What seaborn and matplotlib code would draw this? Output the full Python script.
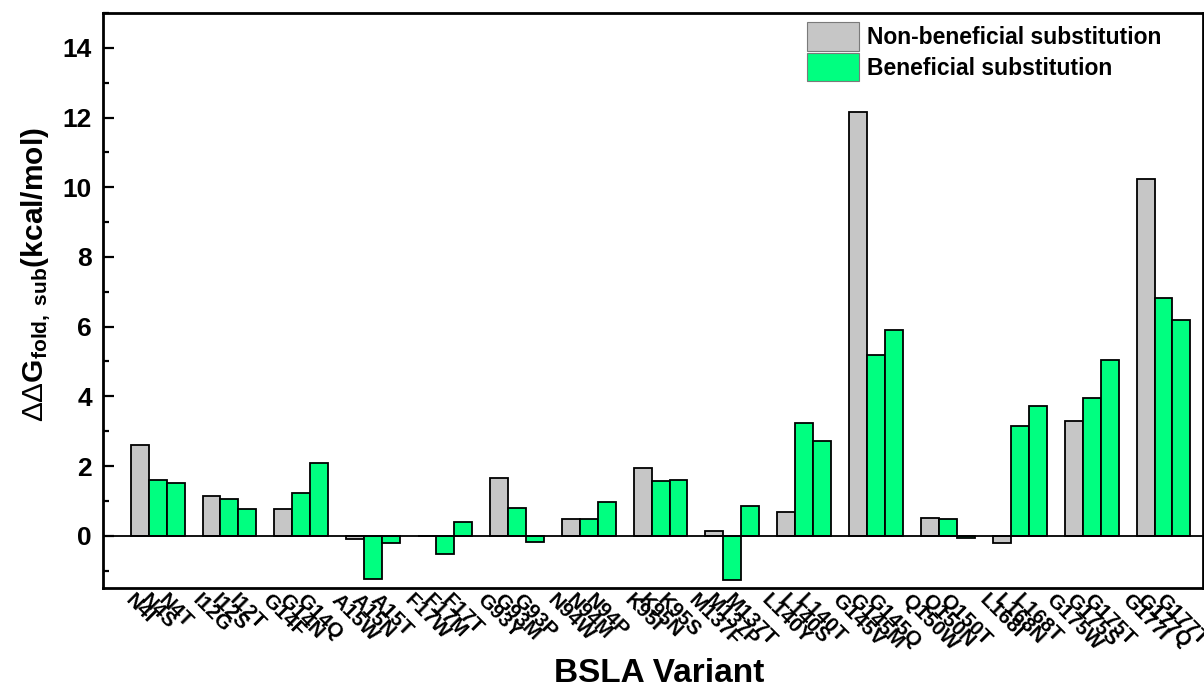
import matplotlib
matplotlib.use("Agg")
import matplotlib.pyplot as plt
from matplotlib.ticker import MultipleLocator
import seaborn as sns
import pandas as pd

# variants, three per residue position (first one = non-beneficial)
groups = ['N4', 'I12', 'G14', 'A15', 'F17', 'G93', 'N94', 'K95',
          'M137', 'L140', 'G145', 'Q150', 'L168', 'G175', 'G177']
variants = ['N4I', 'N4S', 'N4T', 'I12G', 'I12S', 'I12T', 'G14F', 'G14N', 'G14Q',
            'A15W', 'A15N', 'A15T', 'F17W', 'F17M', 'F17T', 'G93Y', 'G93M', 'G93P',
            'N94W', 'N94M', 'N94P', 'K95I', 'K95N', 'K95S', 'M137F', 'M137P', 'M137T',
            'L140Y', 'L140S', 'L140T', 'G145V', 'G145M', 'G145Q', 'Q150W', 'Q150N', 'Q150T',
            'L168I', 'L168N', 'L168T', 'G175W', 'G175S', 'G175T', 'G177I', 'G177Q', 'G177T']
ddg = [2.61, 1.59, 1.52, 1.15, 1.04, 0.76, 0.76, 1.24, 2.09,
       -0.10, -1.25, -0.22, 0.0, -0.52, 0.40, 1.67, 0.79, -0.17,
       0.48, 0.48, 0.96, 1.93, 1.56, 1.59, 0.14, -1.26, 0.84,
       0.69, 3.24, 2.71, 12.15, 5.19, 5.91, 0.52, 0.47, -0.07,
       -0.20, 3.16, 3.71, 3.30, 3.96, 5.05, 10.25, 6.82, 6.18]
nonben = 'Non-beneficial substitution'
ben = 'Beneficial substitution'
kinds = [nonben if i % 3 == 0 else ben for i in range(len(variants))]

df = pd.DataFrame({'variant': variants, 'ddg': ddg, 'kind': kinds})

# one empty slot between groups
order = []
for g in range(len(groups)):
    order += variants[3 * g:3 * g + 3]
    if g < len(groups) - 1:
        order.append(f'gap{g}')
tick_labels = ['' if o.startswith('gap') else o for o in order]

sns.set_style('ticks')
plt.rcParams['font.family'] = ['Liberation Sans', 'DejaVu Sans']
plt.rcParams['text.color'] = 'black'
plt.rcParams['axes.labelcolor'] = 'black'
plt.rcParams['xtick.color'] = 'black'
plt.rcParams['ytick.color'] = 'black'
plt.rcParams['axes.edgecolor'] = 'black'
plt.rcParams['mathtext.fontset'] = 'custom'
plt.rcParams['mathtext.rm'] = 'Liberation Sans'
plt.rcParams['mathtext.bf'] = 'Liberation Sans:bold'
plt.rcParams['mathtext.it'] = 'Liberation Sans:italic'

fig = plt.figure(figsize=(12.04, 6.96), dpi=100)
ax = fig.add_axes([103 / 1204, 1 - 588 / 696, 1100 / 1204, 575 / 696])

sns.barplot(data=df, x='variant', y='ddg', hue='kind', order=order,
            hue_order=[nonben, ben], palette=['#C6C6C6', '#00FF80'],
            saturation=1, dodge=False, width=1.0, edgecolor='black',
            linewidth=1.3, errorbar=None, ax=ax)

ax.axhline(0, color='black', lw=1.3, zorder=5)

ax.set_xlim(-2.04, 59.2)
ax.set_ylim(-1.5, 15)
ax.set_yticks(range(0, 15, 2))
ax.yaxis.set_minor_locator(MultipleLocator(1))
ax.set_xticks(range(len(order)))
ax.set_xticklabels(tick_labels, rotation=-45, ha='center', va='top',
                   fontweight='bold', fontsize=15)
ax.tick_params(axis='x', length=0, pad=2)
ax.tick_params(axis='y', which='major', direction='in', length=8, width=1.6,
               labelsize=19, pad=8)
ax.tick_params(axis='y', which='minor', direction='in', length=4.5, width=1.6)
for lab in ax.get_yticklabels():
    lab.set_fontweight('bold')
for sp in ax.spines.values():
    sp.set_linewidth(2)
    sp.set_visible(True)

ax.set_xlabel('BSLA Variant', fontsize=24, fontweight='bold')
ax.xaxis.set_label_coords(0.506, -0.122)
ax.set_ylabel(r'$\mathrm{\Delta\Delta}\mathbf{G}_{\mathbf{fold,\ sub}}\mathbf{(kcal/mol)}$',
              fontsize=21.5)
ax.yaxis.set_label_coords(-0.045, 0.545)

leg = ax.get_legend()
handles = leg.legend_handles
labels = [t.get_text() for t in leg.get_texts()]
for h in handles:
    h.set_edgecolor('#7A7A7A')
    h.set_linewidth(0.8)
ax.legend(handles, labels, loc='upper left', bbox_to_anchor=(0.64, 0.984),
          frameon=False, prop={'weight': 'bold', 'size': 16.5},
          handlelength=2.25, handleheight=1.55, handletextpad=0.35,
          labelspacing=0.08, borderpad=0, borderaxespad=0)

fig.savefig('out.png', dpi=100)
